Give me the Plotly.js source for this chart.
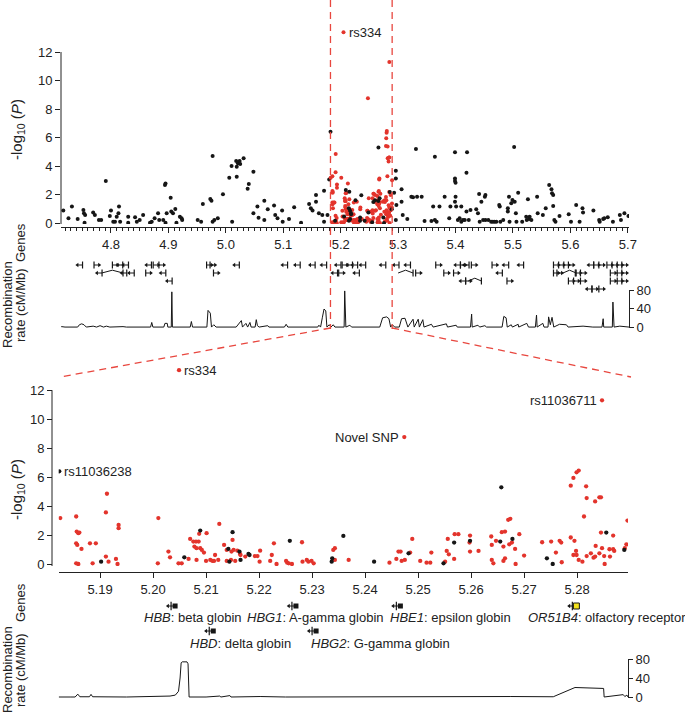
<!DOCTYPE html>
<html><head><meta charset="utf-8">
<script src="https://cdn.plot.ly/plotly-3.0.1.min.js"></script>
<style>html,body{margin:0;padding:0;background:#fff}#chart{width:685px;height:715px}</style>
</head><body><div id="chart"></div>
<script>
// ---------- DATA ----------
// Wide region (outside the zoom window), all black
const wideX = [4.717,4.732,4.726,4.742,4.752,4.753,4.755,4.754,4.769,4.772,4.779,4.783,4.791,4.800,4.798,4.804,4.807,4.810,4.813,4.814,4.816,4.830,4.830,4.842,4.845,4.850,4.856,4.868,4.871,4.876,4.882,4.884,4.891,4.894,4.895,4.895,4.897,4.904,4.905,4.908,4.912,4.914,4.920,4.923,4.924,4.951,4.957,4.960,4.973,4.975,4.977,4.977,4.980,4.986,4.995,5.006,5.010,5.011,5.018,5.019,5.019,5.021,5.024,5.025,5.031,5.038,5.040,5.048,5.048,5.055,5.057,5.067,5.067,5.073,5.084,5.086,5.090,5.098,5.099,5.110,5.119,5.131,5.145,5.148,5.151,5.157,5.157,5.162,5.168,5.171,5.171,5.177,5.180,
5.293,5.296,5.296,5.297,5.296,5.306,5.306,5.308,5.316,5.323,5.326,5.331,5.333,5.341,5.346,5.358,5.361,5.364,5.364,5.367,5.372,5.381,5.389,5.391,5.399,5.399,5.399,5.400,5.399,5.400,5.401,5.404,5.407,5.410,5.410,5.413,5.416,5.419,5.420,5.419,5.423,5.426,5.436,5.439,5.441,5.442,5.445,5.448,5.451,5.452,5.452,5.457,5.462,5.465,5.468,5.471,5.476,5.477,5.478,5.483,5.491,5.491,5.493,5.494,5.497,5.499,5.502,5.503,5.505,5.506,5.509,5.516,5.523,5.524,5.526,5.528,5.529,5.532,5.542,5.543,5.552,5.557,5.563,5.567,5.568,5.570,5.570,5.572,5.574,5.581,5.597,5.601,5.610,5.616,5.621,5.622,5.640,5.650,5.651,5.657,5.659,5.665,5.674,5.686,5.688,5.694,5.701];
const wideY = [0.87,1.15,0.33,0.28,0.91,0.68,0.56,0.02,0.73,0.56,0.21,0.21,2.95,0.87,0.49,0.09,0.09,0.44,0.68,1.15,0.09,0.44,0.02,0.40,0.09,0.21,0.56,0.02,0.09,0.33,0.68,0.21,0.21,2.67,2.78,0.02,0.68,1.78,0.80,0.68,0.98,0.02,0.44,0.33,0.21,0.21,0.09,1.33,1.68,1.57,4.70,0.09,0.21,0.33,2.01,3.18,4.00,0.09,4.35,3.95,3.25,4.19,4.35,4.14,4.54,2.41,2.74,3.60,0.68,1.15,0.37,1.57,0.21,0.96,1.22,0.56,0.33,0.87,0.09,0.28,1.10,0.02,1.33,1.03,0.87,1.96,1.50,0.68,0.56,2.27,0.09,0.56,3.06,
2.13,3.67,3.13,1.26,0.21,2.36,1.50,0.56,0.28,1.85,1.80,5.19,1.85,1.85,0.14,0.14,1.15,4.65,0.21,0.09,1.15,1.85,0.33,1.15,1.50,3.13,2.95,2.83,4.96,1.85,1.15,0.21,0.33,1.15,0.09,0.21,0.21,0.80,4.96,3.53,0.21,0.91,0.96,0.68,2.04,0.09,1.50,0.21,1.85,1.96,0.21,0.21,0.09,0.09,0.09,0.09,1.26,1.15,0.09,0.21,1.03,0.80,1.85,0.09,1.38,1.61,5.33,1.50,0.68,0.09,2.13,0.09,0.44,0.21,1.66,0.28,0.44,0.21,1.85,0.68,0.56,1.03,2.67,2.36,2.08,1.96,1.19,0.21,0.09,0.49,0.61,0.09,1.26,0.09,1.03,0.73,0.87,0.21,0.09,0.28,0.33,0.40,0.09,0.56,0.21,0.68,0.49];

// Zoom window: red SNPs
const zoomRedX = [5.1825,5.1855,5.1855,5.1859,5.1855,5.1857,5.1856,5.1859,5.1861,5.1865,5.1881,5.1886,5.1892,5.1911,5.1913,5.1911,5.1916,5.1930,5.1933,5.1935,5.1935,5.2010,5.2009,5.2029,5.2032,5.2048,5.2054,5.2067,5.2070,5.2076,5.2081,5.2086,5.2078,5.2082,5.2082,5.2087,5.2089,5.2092,5.2096,5.2100,5.2101,5.2108,5.2112,5.2115,5.2117,5.2123,5.2125,5.2134,5.2139,5.2139,5.2147,5.2148,5.2150,5.2152,5.2155,5.2159,5.2164,5.2165,5.2174,5.2192,5.2197,5.2201,5.2202,5.2221,5.2224,5.2228,5.2233,5.2251,5.2253,5.2256,5.2262,5.2281,5.2282,5.2290,5.2293,5.2299,5.2303,5.2340,5.2343,5.2343,5.2369,
5.2446,5.2459,5.2463,5.2467,5.2469,5.2475,5.2485,5.2489,5.2504,5.2516,5.2523,5.2525,5.2551,5.2554,5.2556,5.2558,5.2568,5.2569,5.2576,5.2597,5.2598,5.2598,5.2614,5.2638,5.2639,5.2639,5.2642,5.2647,5.2658,5.2661,5.2664,5.2661,5.2664,5.2670,5.2674,5.2672,5.2677,5.2683,5.2684,5.2691,5.2700,5.2734,5.2751,5.2760,5.2767,5.2770,5.2771,5.2788,5.2793,5.2799,5.2803,5.2788,5.2795,5.2793,5.2799,5.2798,5.2803,5.2810,5.2813,5.2817,5.2818,5.2818,5.2826,5.2831,5.2834,5.2834,5.2835,5.2842,5.2845,5.2842,5.2845,5.2847,5.2851,5.2852,5.2861,5.2862,5.2868,5.2868,5.2870,5.2890,5.2893,5.2895];
const zoomRedY = [3.17,3.28,0.05,0.00,1.43,1.32,2.24,2.13,2.17,1.04,1.43,0.05,1.43,3.56,4.85,0.51,0.16,0.35,0.00,2.70,2.47,3.17,0.05,0.86,0.46,0.05,0.05,0.35,1.73,1.55,1.55,1.55,1.20,1.09,0.28,2.08,1.09,0.97,0.79,0.21,2.13,0.28,0.21,0.21,0.62,0.28,2.77,1.32,0.97,0.21,0.28,0.86,1.66,0.97,0.21,0.92,0.69,0.62,0.51,0.55,0.55,0.16,0.92,0.21,0.62,1.43,0.00,0.21,0.09,0.05,0.00,1.50,0.16,0.28,0.16,0.21,0.05,0.97,1.09,0.28,0.28,
0.09,0.35,0.86,0.86,0.21,0.28,0.79,1.73,0.21,0.09,0.09,0.79,0.16,0.90,1.73,0.67,0.35,2.06,2.06,1.48,1.96,0.86,0.90,1.90,1.32,0.28,0.05,1.60,2.20,1.20,2.24,0.21,0.39,3.05,3.12,1.36,1.48,1.04,0.00,2.06,0.58,1.50,1.55,0.79,1.60,1.48,0.12,5.41,5.94,6.33,6.45,1.83,1.60,0.62,0.62,0.90,0.28,0.16,3.28,5.36,4.55,0.55,0.74,0.44,0.51,4.32,1.25,4.60,4.60,0.74,2.17,1.09,0.55,0.00,1.02,0.51,1.96,1.02,0.90,1.09,1.36,3.00];
// Zoom window: black SNPs
const zoomBlackX = [5.1902,5.2059,5.2089,5.2142,5.2144,5.2150,5.2163,5.2165,5.2180,5.2182,5.2258,5.2337,5.2338,5.2359,5.2417,5.2482,5.2548,5.2568,5.2598,5.2655,5.2657,5.2678,5.2743,5.2754,5.2855,5.2889];
const zoomBlackY = [0.16,0.46,2.31,1.04,0.16,2.20,0.86,0.28,0.69,0.62,1.60,0.16,0.39,1.94,0.16,0.74,0.05,1.48,1.60,1.55,5.29,1.73,0.39,0.00,2.17,0.97];

// Labelled SNPs
const leadText  = ["rs334","rs11036238","Novel SNP","rs11036711"];
const leadX     = [5.2049, 5.1823, 5.2474, 5.2847];
const leadY     = [13.38, 6.40, 8.76, 11.30];
const leadColor = ["r","k","r","r"];
const leadSide  = [1, 1, -1, -1];   // label right (1) or left (-1) of the dot

// Genes in the wide panel: centre (Mb), track row, strand
const geneX = [4.746,4.775,4.807,4.816,4.826,4.866,4.878,4.888,4.971,4.977,5.019,5.103,5.125,5.151,5.171,5.196,5.207,5.216,5.225,5.239,5.274,5.297,5.317,5.370,5.404,5.413,5.419,5.432,5.468,5.488,5.514,5.575,5.584,5.593,5.601,5.636,5.645,5.654,5.668,5.677,5.686,5.694,
  4.780,4.823,4.836,4.865,4.891,4.983,5.190,5.201,5.228,5.335,5.384,5.401,5.477,5.575,5.581,5.613,5.622,5.674,5.686,5.694,
  4.902,5.413,5.422,5.494,5.601,5.610,5.622,5.674,5.686,5.694,
  5.633,5.642,5.654];
const geneRow = [0,0,0,0,0,0,0,0,0,0,0,0,0,0,0,0,0,0,0,0,0,0,0,0,0,0,0,0,0,0,0,0,0,0,0,0,0,0,0,0,0,0,
  1,1,1,1,1,1,1,1,1,1,1,1,1,1,1,1,1,1,1,1,
  2,2,2,2,2,2,2,2,2,2,
  3,3,3];
const geneDir = [-1,1,1,-1,-1,-1,1,1,1,1,-1,-1,-1,-1,-1,-1,1,-1,-1,-1,-1,-1,-1,1,-1,1,-1,1,1,-1,-1,1,1,1,1,-1,1,1,1,1,1,1,
  -1,-1,-1,1,-1,1,-1,1,-1,1,1,1,-1,1,1,1,1,1,1,1,
  -1,-1,1,1,1,1,1,1,1,1,
  -1,1,1];
// Multi-exon genes drawn with an intron hat
const archStart = [4.784,5.300,5.587,5.422];
const archEnd   = [4.821,5.326,5.610,5.445];
const archRow   = [1,1,1,2];

// Genes in the zoom window
const zGeneName = ["HBB","HBD","HBG1","HBG2","HBE1","OR51B4"];
const zGeneDesc = ["beta globin","delta globin","A-gamma globin","G-gamma globin","epsilon globin","olfactory receptor"];
const zGeneX    = [5.2036,5.2108,5.2264,5.2302,5.2461,5.2793];
const zGeneRow  = [0,1,0,1,0,0];

// Recombination rate (cM/Mb)
const recWideX = [4.713,4.714,4.720,4.742,4.745,4.749,4.753,4.757,4.769,4.775,4.781,4.787,4.792,4.798,4.821,4.827,4.869,4.871,4.873,4.892,4.894,4.898,4.899,4.905,4.906,4.907,4.938,4.940,4.942,4.967,4.969,4.972,4.973,4.975,4.979,4.983,5.018,5.027,5.029,5.035,5.038,5.042,5.044,5.051,5.053,5.055,5.058,5.073,5.075,5.102,5.105,5.108,5.160,5.162,5.165,5.168,5.171,5.174,5.176,5.180,5.183,5.187,5.190,5.206,5.207,5.209,5.216,5.219,5.268,5.273,5.280,5.284,5.287,5.290,5.294,5.302,5.306,5.312,5.314,5.317,5.326,5.328,5.335,5.337,5.343,5.345,5.358,5.361,5.384,5.386,5.401,5.403,5.426,5.428,5.429,5.439,5.442,5.451,5.454,5.481,5.484,5.488,5.490,5.497,5.499,5.509,5.510,5.524,5.527,5.539,5.541,5.542,5.552,5.554,5.561,5.562,5.565,5.568,5.571,5.581,5.593,5.596,5.622,5.639,5.655,5.657,5.658,5.673,5.674,5.676,5.686,5.702];
const recWideY = [0,1,0,0,5,7,5,0,2,0,3,0,2,0,1,0,0,10,0,0,8,8,0,0,76,0,0,12,0,0,36,33,30,0,5,0,0,14,0,8,0,10,0,0,16,3,0,3,0,0,6,0,0,4,0,20,39,35,0,5,0,5,0,0,78,0,4,0,0,20,22,18,0,5,0,0,18,19,10,0,17,0,17,0,16,0,6,0,7,0,4,0,0,28,0,4,0,3,0,0,23,20,0,5,0,6,0,8,0,0,26,0,8,0,0,22,5,21,0,6,5,0,2,0,0,18,0,0,54,0,2,0];
const recZoomX = [5.1822,5.1837,5.1845,5.1853,5.1858,5.1862,5.1880,5.1883,5.1886,5.1950,5.2013,5.2032,5.2042,5.2048,5.2051,5.2053,5.2055,5.2064,5.2066,5.2068,5.2100,5.2126,5.2128,5.2145,5.2147,5.2190,5.2196,5.2202,5.2250,5.2372,5.2441,5.2500,5.2665,5.2670,5.2675,5.2755,5.2796,5.2850,5.2851,5.2887,5.2890,5.2894,5.2896];
const recZoomY = [0,1,0,0,6,0.5,0.5,5.5,0.5,0,1,2,4,12,40,72,74,74,70,0,0,2,0,3,0,1,2,1,0,0.5,1,0,1,2,1,0.5,20,18,0,5,1,4,0];

// Axis settings
const wideRange = [4.713, 5.702];
const zoomRange = [5.1822, 5.2896];
const pTicks = [0, 2, 4, 6, 8, 10, 12];
const recTicks = [0, 40, 80];

// ---------- LAYOUT HELPERS ----------
const W = 685, H = 715;
const PX = v => v / W;
const PY = v => 1 - v / H;
const RED = '#e3342c', BLK = '#161616';
const FONT = 'Liberation Sans, Arial, Helvetica, sans-serif';

const traces = [];
const dot = (x, y, color, xa, ya, size) => ({
  type:'scatter', mode:'markers', x, y, xaxis:xa, yaxis:ya,
  marker:{size:size, color:color, line:{width:0}}, hoverinfo:'skip'
});
const leadR = leadColor.map((c,i)=>c==='r'?i:-1).filter(i=>i>=0);
const leadK = leadColor.map((c,i)=>c==='k'?i:-1).filter(i=>i>=0);
[['x','y',4],['x2','y2',4.3]].forEach(([xa, ya, s]) => {
  if (xa === 'x') traces.push(dot(wideX, wideY, BLK, xa, ya, s));
  traces.push(dot(zoomRedX, zoomRedY, RED, xa, ya, s));
  traces.push(dot(zoomBlackX, zoomBlackY, BLK, xa, ya, s));
  traces.push(dot(leadR.map(i=>leadX[i]), leadR.map(i=>leadY[i]), RED, xa, ya, s));
  traces.push(dot(leadK.map(i=>leadX[i]), leadK.map(i=>leadY[i]), BLK, xa, ya, s));
});

// wide-panel gene glyphs
const gw = 0.0045;
const gl = {x:[], y:[]}, gb = {x:[], y:[]}, gaL = {x:[], y:[]}, gaR = {x:[], y:[]};
geneX.forEach((c, i) => {
  const r = -geneRow[i], d = geneDir[i];
  gl.x.push(c - gw, c + gw, null); gl.y.push(r, r, null);
  if (d > 0) { gb.x.push(c - gw); gb.y.push(r); gaR.x.push(c + gw); gaR.y.push(r); }
  else { gb.x.push(c + gw); gb.y.push(r); gaL.x.push(c - gw); gaL.y.push(r); }
});
archStart.forEach((s, i) => {
  const e = archEnd[i], r = -archRow[i];
  gl.x.push(s, (s + e) / 2, e, null); gl.y.push(r, r + 0.35, r, null);
  gb.x.push(e); gb.y.push(r);
});
traces.push({type:'scatter', mode:'lines', x:gl.x, y:gl.y, xaxis:'x', yaxis:'y3', line:{color:BLK, width:1}, hoverinfo:'skip'});
traces.push({type:'scatter', mode:'markers', x:gb.x, y:gb.y, xaxis:'x', yaxis:'y3',
  marker:{symbol:'line-ns', size:5, line:{width:1.2, color:BLK}}, hoverinfo:'skip'});
traces.push({type:'scatter', mode:'markers', x:gaL.x, y:gaL.y, xaxis:'x', yaxis:'y3',
  marker:{symbol:'triangle-left', size:4, color:BLK}, hoverinfo:'skip'});
traces.push({type:'scatter', mode:'markers', x:gaR.x, y:gaR.y, xaxis:'x', yaxis:'y3',
  marker:{symbol:'triangle-right', size:4, color:BLK}, hoverinfo:'skip'});

// recombination lines
traces.push({type:'scatter', mode:'lines', x:recWideX, y:recWideY, xaxis:'x', yaxis:'y4', line:{color:BLK, width:1}, hoverinfo:'skip'});
traces.push({type:'scatter', mode:'lines', x:recZoomX, y:recZoomY, xaxis:'x2', yaxis:'y6', line:{color:BLK, width:1}, hoverinfo:'skip'});

// zoom-window gene glyphs
const zw = 0.0008;
const zl = {x:[], y:[]}, zA = {x:[], y:[]}, zB = {x:[], y:[]}, zE = {x:[], y:[]}, zY = {x:[], y:[]};
zGeneX.forEach((c, i) => {
  const r = -zGeneRow[i];
  zl.x.push(c - zw, c + zw, null); zl.y.push(r, r, null);
  zA.x.push(c - zw); zA.y.push(r);
  zB.x.push(c - 0.0002); zB.y.push(r);
  if (zGeneName[i] === 'OR51B4') { zY.x.push(c + zw*0.7); zY.y.push(r); }
  else { zE.x.push(c + zw*0.7); zE.y.push(r); }
});
traces.push({type:'scatter', mode:'lines', x:zl.x, y:zl.y, xaxis:'x2', yaxis:'y5', line:{color:BLK, width:1}, hoverinfo:'skip'});
traces.push({type:'scatter', mode:'markers', x:zA.x, y:zA.y, xaxis:'x2', yaxis:'y5',
  marker:{symbol:'triangle-left', size:4, color:BLK}, hoverinfo:'skip'});
traces.push({type:'scatter', mode:'markers', x:zB.x, y:zB.y, xaxis:'x2', yaxis:'y5',
  marker:{symbol:'line-ns', size:6, line:{width:1.2, color:BLK}}, hoverinfo:'skip'});
traces.push({type:'scatter', mode:'markers', x:zE.x, y:zE.y, xaxis:'x2', yaxis:'y5',
  marker:{symbol:'square', size:5, color:BLK}, hoverinfo:'skip'});
traces.push({type:'scatter', mode:'markers', x:zY.x, y:zY.y, xaxis:'x2', yaxis:'y5',
  marker:{symbol:'square', size:6, color:'#f3e21c', line:{width:1, color:BLK}}, hoverinfo:'skip'});

// ---------- AXES ----------
const tf = {family:FONT, size:13, color:'#222'};
const baseAx = {showgrid:false, zeroline:false, showline:true, linecolor:'#222', linewidth:1,
  ticks:'outside', tickcolor:'#222', tickwidth:1, tickfont:tf, fixedrange:true};

const topYR = [-0.07, 14];      // 12 at py 52, 14.25 px per unit
const botYR = [-0.138, 14];     // 12 at py 390, 14.42 px per unit

const layout = {
  width:W, height:H, margin:{l:0, r:0, t:0, b:0},
  paper_bgcolor:'#fff', plot_bgcolor:'rgba(0,0,0,0)', showlegend:false,
  font:{family:FONT, size:13, color:'#222'},
  xaxis: Object.assign({}, baseAx, {domain:[PX(61), PX(629)], range:wideRange, anchor:'free', position:PY(227),
    tick0:4.8, dtick:0.1, tickformat:'.1f', ticklen:5,
    minor:{dtick:0.01, tick0:4.8, ticks:'outside', ticklen:3, tickcolor:'#222', tickwidth:1, showgrid:false}}),
  yaxis: Object.assign({}, baseAx, {domain:[PY(224), PY(23.5)], range:topYR, anchor:'x', tickvals:pTicks, ticklen:5, showline:false}),
  yaxis3: {domain:[PY(297), PY(257)], range:[-4, 1], anchor:'x', visible:false, fixedrange:true},
  yaxis4: Object.assign({}, baseAx, {domain:[PY(328), PY(290)], range:[-2, 80], anchor:'x', side:'right',
    tickvals:recTicks, ticklen:4}),
  xaxis2: Object.assign({}, baseAx, {domain:[PX(58.7), PX(628)], range:zoomRange, anchor:'free', position:PY(572),
    tick0:5.19, dtick:0.01, tickformat:'.2f', ticklen:5}),
  yaxis2: Object.assign({}, baseAx, {domain:[PY(566), PY(361.2)], range:botYR, anchor:'free', position:PX(52),
    tickvals:pTicks, ticklen:5, showline:false}),
  yaxis5: {domain:[PY(643.5), PY(593.5)], range:[-1.5, 0.5], anchor:'x2', visible:false, fixedrange:true},
  yaxis6: Object.assign({}, baseAx, {domain:[PY(698), PY(659)], range:[-2.1, 80], anchor:'x2', side:'right',
    tickvals:recTicks, ticklen:4}),
  shapes: [],
  annotations: []
};

// y axis lines only up to the top tick
layout.shapes.push({type:'line', xref:'paper', yref:'y', x0:PX(61), x1:PX(61), y0:topYR[0], y1:12, line:{color:'#222', width:1}});
layout.shapes.push({type:'line', xref:'paper', yref:'y2', x0:PX(52), x1:PX(52), y0:botYR[0], y1:12, line:{color:'#222', width:1}});

// dashed zoom guides
const dash = {color:'#e8473f', width:1.3, dash:'7px,5px'};
layout.shapes.push({type:'line', xref:'x', yref:'paper', x0:zoomRange[0], x1:zoomRange[0], y0:1, y1:PY(329), line:dash});
layout.shapes.push({type:'line', xref:'x', yref:'paper', x0:zoomRange[1], x1:zoomRange[1], y0:1, y1:PY(329), line:dash});
layout.shapes.push({type:'line', xref:'paper', yref:'paper', x0:PX(330.5), y0:PY(328), x1:PX(60), y1:PY(377), line:dash});
layout.shapes.push({type:'line', xref:'paper', yref:'paper', x0:PX(392.2), y0:PY(328), x1:PX(631), y1:PY(377), line:dash});

// axis titles
const vt = (text, x, y, size) => ({text, x:PX(x), y:PY(y), xref:'paper', yref:'paper', showarrow:false,
  textangle:-90, xanchor:'center', yanchor:'middle', font:{family:FONT, size:size, color:'#222'}});
const logT = '-log<sub>10</sub> (<i>P</i>)';
layout.annotations.push(vt(logT, 17, 130, 15));
layout.annotations.push(vt(logT, 17, 490, 15));
layout.annotations.push(vt('Genes', 20, 243, 13));
layout.annotations.push(vt('Recombination', 7, 305, 13));
layout.annotations.push(vt('rate (cM/Mb)', 20, 305, 13));
layout.annotations.push(vt('Genes', 20, 603, 13));
layout.annotations.push(vt('Recombination', 7, 670, 13));
layout.annotations.push(vt('rate (cM/Mb)', 20, 670, 13));

// SNP labels
const lab = (text, x, y, xa, ya, side) => ({text, x, y, xref:xa, yref:ya, showarrow:false,
  xanchor: side > 0 ? 'left' : 'right', yanchor:'middle', xshift: side > 0 ? 3 : -3,
  font:{family:FONT, size:13, color:'#222'}});
layout.annotations.push(lab(leadText[0], leadX[0], leadY[0], 'x', 'y', leadSide[0]));
leadText.forEach((t, i) => layout.annotations.push(lab(t, leadX[i], leadY[i], 'x2', 'y2', leadSide[i])));

// gene labels in zoom window
const labCenters = [193, 240, 315, 380, 450, 607];
zGeneName.forEach((g, i) => {
  layout.annotations.push({text:'<i>' + g + '</i>: ' + zGeneDesc[i], x:PX(labCenters[i]),
    y:PY(zGeneRow[i] ? 643 : 617), xref:'paper', yref:'paper', showarrow:false,
    xanchor:'center', yanchor:'middle', font:{family:FONT, size:13, color:'#222'}});
});

Plotly.newPlot('chart', traces, layout, {staticPlot:true, displayModeBar:false});
</script></body></html>
